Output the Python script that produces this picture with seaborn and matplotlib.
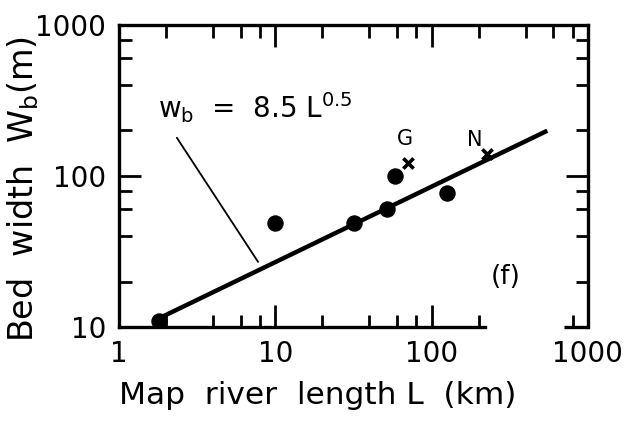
import matplotlib
matplotlib.use("Agg")
import matplotlib.pyplot as plt
from matplotlib.ticker import NullFormatter, FixedLocator, FixedFormatter
import numpy as np
import pandas as pd
import seaborn as sns

# Observed bed widths (filled circles)
length_dots = [1.8, 10, 32, 52, 58, 126]
width_dots = [11, 49, 49, 60, 100, 77]

# Labelled rivers (crosses)
length_cross = [71, 226]
width_cross = [122, 140]
cross_names = ["G", "N"]

# Fitted relation W_b = 8.5 L^0.5
fit_coef = 8.5
fit_exp = 0.5
fit_range = [1.75, 550]

x_major = [1, 10, 100, 1000]
y_major = [10, 100, 1000]
x_tick_labels = ["1", "10", "100", "1000"]
y_tick_labels = ["10", "100", "1000"]
minor_x = [2, 4, 6, 8, 20, 40, 60, 80, 200, 400, 600, 800]
minor_y = [20, 40, 60, 80, 200, 400, 600, 800]

sns.set_theme(style="ticks")
plt.rcParams["font.family"] = ["DejaVu Sans"]
plt.rcParams["mathtext.fontset"] = "dejavusans"
plt.rcParams["text.color"] = "black"
plt.rcParams["axes.labelcolor"] = "black"
plt.rcParams["xtick.color"] = "black"
plt.rcParams["ytick.color"] = "black"

fig = plt.figure(figsize=(6.39, 4.22), dpi=100)
ax = fig.add_axes([0.186, 0.225, 0.734, 0.716])

fit_L = np.geomspace(fit_range[0], fit_range[1], 50)
fit_df = pd.DataFrame({"L": fit_L, "W": fit_coef * fit_L ** fit_exp})
sns.lineplot(data=fit_df, x="L", y="W", ax=ax, color="black", linewidth=3.2,
             solid_capstyle="butt")

dots_df = pd.DataFrame({"L": length_dots, "W": width_dots})
sns.scatterplot(data=dots_df, x="L", y="W", ax=ax, color="black", s=140,
                edgecolor="black", linewidth=0, zorder=5)

cross_df = pd.DataFrame({"L": length_cross, "W": width_cross})
sns.scatterplot(data=cross_df, x="L", y="W", ax=ax, color="black", marker="x",
                s=55, linewidth=2.6, zorder=5)

ax.set_xscale("log")
ax.set_yscale("log")
ax.set_xlim(1, 1000)
ax.set_ylim(10, 1000)

ax.xaxis.set_major_locator(FixedLocator(x_major))
ax.xaxis.set_major_formatter(FixedFormatter(x_tick_labels))
ax.yaxis.set_major_locator(FixedLocator(y_major))
ax.yaxis.set_major_formatter(FixedFormatter(y_tick_labels))
ax.xaxis.set_minor_locator(FixedLocator(minor_x))
ax.yaxis.set_minor_locator(FixedLocator(minor_y))
ax.xaxis.set_minor_formatter(NullFormatter())
ax.yaxis.set_minor_formatter(NullFormatter())

ax.tick_params(which="both", direction="in", top=True, right=True,
               color="black", width=2.0)
ax.tick_params(which="major", length=16, labelsize=20, pad=9)
ax.tick_params(which="minor", length=9)

for side in ["left", "top", "right", "bottom"]:
    ax.spines[side].set_linewidth(2.4)
    ax.spines[side].set_color("black")

# bottom frame has a break between ~220 and ~700 km
ax.spines["bottom"].set_bounds(1, 220)
ax.plot([700, 1000], [0, 0], transform=ax.get_xaxis_transform(),
        color="black", linewidth=2.4, clip_on=False, solid_capstyle="butt")
for tick, loc in zip(ax.xaxis.get_minor_ticks(), ax.xaxis.get_minorticklocs()):
    if 220 < loc < 700:
        tick.tick1line.set_visible(False)
for tick, loc in zip(ax.xaxis.get_major_ticks(), ax.xaxis.get_majorticklocs()):
    if loc > 220:
        tick.tick1line.set_visible(False)

ax.set_xlabel("Map  river  length L  (km)", fontsize=22.5, loc="left",
              labelpad=10)
ax.set_ylabel(r"Bed  width  W$_\mathregular{b}$(m)", fontsize=24, labelpad=0)
ax.yaxis.set_label_coords(-0.165, 0.455)

ax.text(0.083, 0.692, r"w$_\mathregular{b}$  =  8.5 L$^\mathregular{0.5}$",
        transform=ax.transAxes, fontsize=20, va="baseline", ha="left")
ax.plot([2.35, 7.77], [179, 27], color="black", linewidth=1.3)

ax.text(68, 150, cross_names[0], fontsize=15, ha="center", va="bottom")
ax.text(190, 148, cross_names[1], fontsize=15, ha="center", va="bottom")
ax.text(300, 21.4, "(f)", fontsize=19, ha="center", va="center")

fig.savefig("out.png", dpi=100, facecolor="white")
